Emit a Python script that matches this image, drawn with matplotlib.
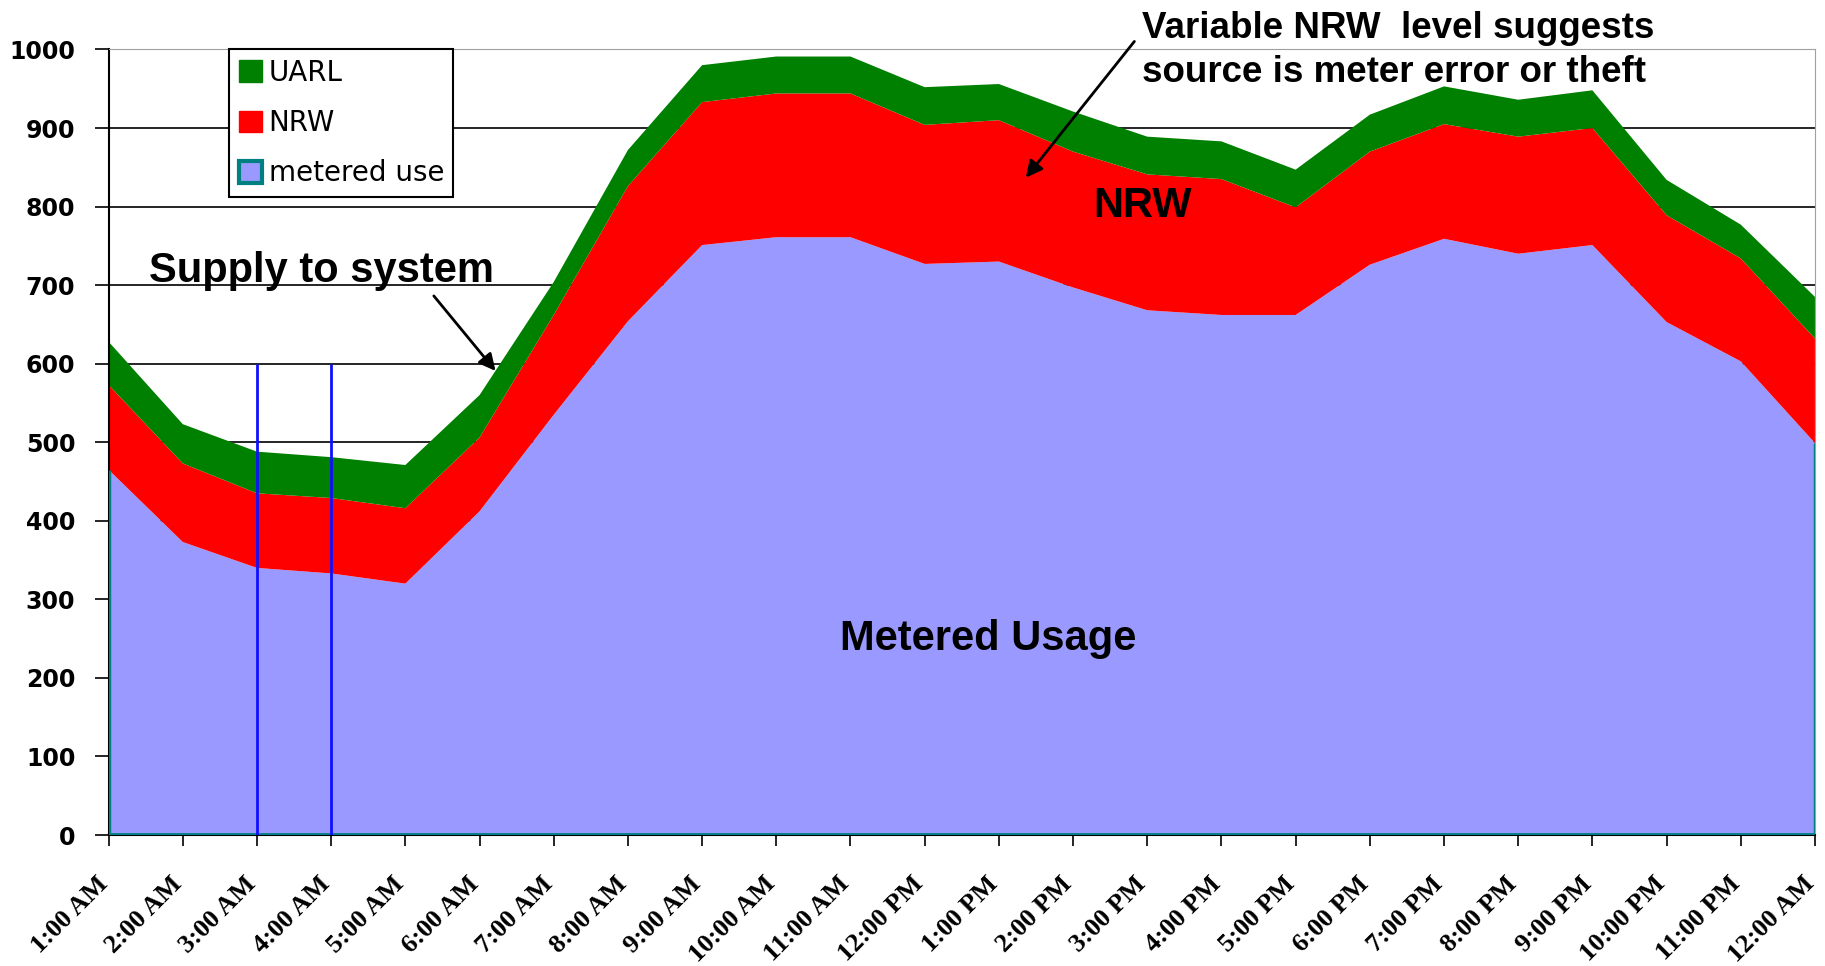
import matplotlib
matplotlib.use("Agg")
import matplotlib.pyplot as plt
from matplotlib.patches import Patch
from matplotlib.transforms import ScaledTranslation
import numpy as np

horas = ["1:00 AM", "2:00 AM", "3:00 AM", "4:00 AM", "5:00 AM", "6:00 AM",
         "7:00 AM", "8:00 AM", "9:00 AM", "10:00 AM", "11:00 AM", "12:00 PM",
         "1:00 PM", "2:00 PM", "3:00 PM", "4:00 PM", "5:00 PM", "6:00 PM",
         "7:00 PM", "8:00 PM", "9:00 PM", "10:00 PM", "11:00 PM", "12:00 AM"]

# capas apiladas
metered = [465, 373, 340, 333, 320, 412, 535, 654, 751, 761, 761, 727,
           730, 697, 668, 662, 662, 726, 759, 740, 751, 653, 603, 499]
nrw = [108, 100, 95, 96, 96, 94, 127, 172, 182, 183, 183, 177,
       180, 173, 173, 173, 137, 144, 146, 149, 149, 136, 131, 133]
uarl = [55, 50, 53, 52, 55, 54, 42, 46, 47, 47, 47, 48,
        46, 51, 48, 48, 48, 47, 48, 47, 48, 45, 43, 53]

lineas_azules = ["3:00 AM", "4:00 AM"]

VERDE = "#008000"
ROJO = "#FF0000"
LILA = "#9999FF"
TEAL = "#008080"

plt.rcParams["font.family"] = ["Liberation Sans", "DejaVu Sans"]

fig = plt.figure(figsize=(18.25, 9.66), dpi=100)
ax = fig.add_axes([0.0595, 0.1356, 0.935, 0.8132])

x = np.arange(len(horas))
ax.stackplot(x, metered, nrw, uarl, colors=[LILA, ROJO, VERDE], linewidth=0, zorder=2)

# borde de la serie medida
ax.vlines([x[0], x[-1]], 0, [metered[0], metered[-1]], color=TEAL, lw=2.5, zorder=3)
ax.hlines(1.5, x[0], x[-1], color=TEAL, lw=2, zorder=3)

# lineas verticales azules
for h in lineas_azules:
    ax.vlines(horas.index(h), 0, 600, color="#1010FF", lw=2, zorder=4)

ax.set_xlim(0, len(horas) - 1)
ax.set_ylim(0, 1000)
ax.set_yticks(np.arange(0, 1001, 100))
ax.set_xticks(x)
ax.set_xticklabels(horas, rotation=45, ha="right", va="baseline", rotation_mode="anchor",
                   fontfamily="Liberation Serif", fontweight="bold", fontsize=19)
corrimiento = ScaledTranslation(-5 / 100, 0, fig.dpi_scale_trans)
for lab in ax.get_xticklabels():
    lab.set_transform(lab.get_transform() + corrimiento)
for lab in ax.get_yticklabels():
    lab.set_fontfamily("DejaVu Sans")
    lab.set_fontweight("bold")
    lab.set_fontsize(17)

ax.tick_params(axis="y", length=10, width=1.2, pad=14, color="black")
ax.tick_params(axis="x", length=8, width=1.2, pad=28, color="black")

ax.set_axisbelow(True)
ax.grid(axis="y", color="black", lw=1.2)
ax.yaxis.get_gridlines()[-1].set_color("#A0A0A0")
ax.spines["top"].set_color("#A0A0A0")
ax.spines["right"].set_color("#A0A0A0")
ax.spines["left"].set_linewidth(1.5)
ax.spines["bottom"].set_linewidth(1.5)

handles = [Patch(facecolor=VERDE, edgecolor=VERDE, label="UARL"),
           Patch(facecolor=ROJO, edgecolor=ROJO, label="NRW"),
           Patch(facecolor=LILA, edgecolor=TEAL, linewidth=3, label="metered use")]
leg = ax.legend(handles=handles, loc="upper left", bbox_to_anchor=(0.0706, 1.0),
                borderaxespad=0, fancybox=False, framealpha=1, edgecolor="black",
                prop={"family": "DejaVu Sans", "size": 20},
                handlelength=0.83, handleheight=0.83, handletextpad=0.25,
                labelspacing=0.8, borderpad=0.34)
leg.get_frame().set_linewidth(1.5)
leg.set_zorder(5)

negrita = dict(fontweight="bold", color="black")
ax.text(0.545, 704, "Supply to system", fontsize=30, va="baseline", ha="left", **negrita)
ax.annotate("", xy=(5.24, 588), xytext=(4.36, 689),
            arrowprops=dict(arrowstyle="-|>", color="black", lw=2, mutation_scale=25))
ax.text(13.94, 787, "NRW", fontsize=30, va="baseline", ha="center", **negrita)
ax.text(11.85, 235, "Metered Usage", fontsize=30, va="baseline", ha="center", **negrita)
ax.text(13.93, 1015, "Variable NRW  level suggests", fontsize=26.5, va="baseline",
        ha="left", clip_on=False, **negrita)
ax.text(13.93, 958, "source is meter error or theft", fontsize=26.5, va="baseline",
        ha="left", clip_on=False, **negrita)
ax.annotate("", xy=(12.34, 834), xytext=(13.85, 1013), annotation_clip=False,
            arrowprops=dict(arrowstyle="-|>", color="black", lw=2, mutation_scale=25))

fig.savefig("out.png", dpi=100)
